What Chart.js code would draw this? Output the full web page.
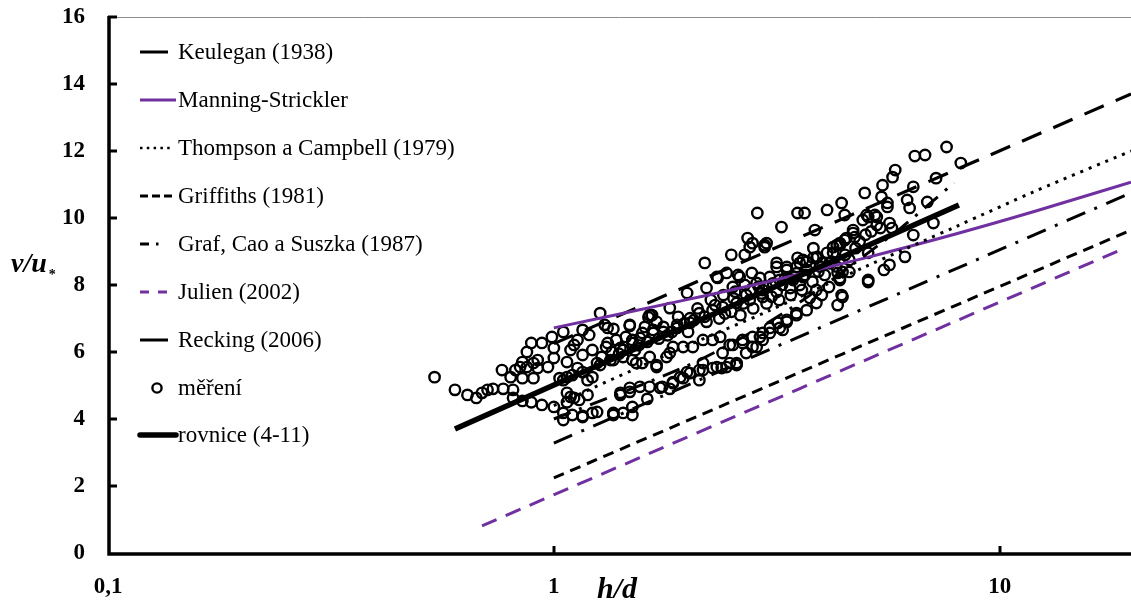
<!DOCTYPE html>
<html>
<head>
<meta charset="utf-8">
<script src="https://cdn.jsdelivr.net/npm/chart.js@4.4.1/dist/chart.umd.min.js"></script>
<style>
  html, body { margin: 0; padding: 0; background: #fff; }
  canvas { display: block; }
</style>
</head>
<body>
<canvas id="graf" width="1131" height="603"></canvas>
<script>
// měření: h/d and v/u*
var mereniHd = [
  0.54, 0.60, 0.64, 0.67, 0.69, 0.71, 0.73, 0.77, 0.81, 0.81, 0.85, 0.89, 0.94, 1.00,
  0.765, 0.80, 0.82, 0.84, 0.85, 0.87, 0.89, 0.94, 0.99, 1.05, 1.16, 0.87, 0.90, 0.92, 0.92, 0.90,
  0.85, 0.97, 1.00, 1.00, 1.07, 1.09, 1.11, 1.13, 1.07, 1.03, 1.13, 1.16, 1.20, 1.22, 1.19,
  1.05, 1.10, 1.16, 1.22, 1.25, 1.07, 1.11, 1.19, 1.05, 1.16, 1.36, 1.43, 1.50, 1.41, 1.48,
  1.56, 1.62, 1.73, 1.82, 1.85, 1.95, 1.99, 2.12, 2.16, 2.27, 2.38, 2.48, 2.57, 2.52, 2.65,
  2.79, 2.90, 3.05, 3.21, 3.33, 3.50, 2.27, 2.39,
  1.27, 1.30, 1.36, 1.48, 1.63, 1.66, 1.82, 1.99, 2.18, 2.50, 2.68, 2.79, 2.97, 2.20, 2.33,
  2.44, 2.61, 2.78, 2.52, 2.68, 2.85, 2.94,
  1.31, 1.38, 1.43, 1.50, 1.58, 1.67, 1.76, 1.89, 2.02, 2.12, 2.27, 2.39, 2.57, 2.75, 2.94,
  1.25, 1.34, 1.43, 1.53, 1.64, 1.70, 1.82, 1.95, 2.05, 2.16, 2.36, 2.48, 2.65, 2.79,
  1.41, 1.48, 1.64, 1.75, 1.85, 1.92, 2.02, 2.12, 2.16, 2.32, 2.44, 2.57, 2.70, 2.85, 2.94,
  1.36, 1.50,
  2.86, 3.24, 2.72, 2.75, 2.97, 2.32, 2.59, 2.90, 3.16, 3.33, 3.52, 3.52,
  3.65, 4.10, 4.42, 4.49, 3.85, 3.00, 3.82, 4.31, 4.49, 4.69, 4.93, 5.03, 5.25, 5.30, 5.66,
  5.73, 6.40, 7.10, 6.20, 5.60,
  3.16, 3.33, 3.50, 3.69, 3.88, 4.10, 4.23, 4.38, 4.53, 3.05, 3.21, 3.44, 3.62, 3.00, 3.16,
  3.39, 3.56,
  4.33, 4.60, 4.38, 5.07, 5.50, 5.66, 6.13, 5.07, 4.44, 4.33, 3.75, 3.88, 3.69, 3.50, 3.33,
  3.18, 3.05, 2.94, 3.26, 3.88, 4.14, 3.99,
  7.60, 6.45, 6.80, 8.18, 7.20, 5.83, 5.75, 5.46, 4.98, 5.43, 6.40, 5.60, 6.88, 5.07, 5.30,
  6.28, 4.69, 4.73, 4.38, 4.23, 3.82, 3.62, 3.90, 4.00, 4.44, 4.38, 4.42, 3.56, 5.07,
  1.32, 1.48, 1.64, 1.32, 1.41, 1.50, 1.56, 1.67, 1.76, 1.89, 2.02, 1.27, 1.36, 1.50, 1.58,
  1.70, 1.79, 1.85, 1.05, 1.10, 1.16, 1.22, 1.09, 1.14, 1.07,
  // dense middle band
  1.35, 1.45, 1.55, 1.60, 1.70, 1.80, 1.90, 2.00, 2.10, 2.20, 2.25, 2.35, 2.40, 2.50, 2.55,
  2.62, 2.70, 2.80, 2.88, 3.00, 3.10, 3.20, 3.30, 3.40, 3.50, 3.60, 3.70, 3.80, 3.95, 4.05,
  4.20, 4.30, 4.50, 4.60, 4.75, 4.85, 5.00, 5.15, 5.40, 1.28, 1.40, 1.52, 1.62, 1.72, 1.84,
  1.96, 2.06, 2.18, 2.30, 2.42, 2.53, 2.66, 2.76, 2.92, 3.08, 3.25, 3.45, 3.66, 3.92, 4.15
];
var mereniVu = [
  5.25, 4.87, 4.72, 4.63, 4.78, 4.87, 4.90, 4.90, 4.87, 4.63, 4.54, 4.50, 4.42, 4.36,
  5.46, 5.25, 5.46, 5.55, 5.70, 6.00, 6.27, 6.27, 6.45, 6.60, 6.66, 5.55, 5.67, 5.76, 5.52, 5.22,
  5.22, 5.55, 5.82, 6.12, 5.70, 6.06, 6.21, 6.36, 5.25, 5.22, 5.52, 5.91, 6.51, 6.06, 5.16,
  4.18, 4.12, 4.09, 4.18, 4.21, 4.50, 4.63, 4.72, 3.97, 4.06, 4.12, 4.18, 4.12, 4.72, 4.93,
  4.96, 4.60, 4.93, 4.90, 5.10, 5.22, 5.40, 5.16, 5.46, 5.52, 5.52, 5.67, 5.61, 6.21, 6.27,
  6.15, 6.45, 6.57, 6.72, 6.90, 7.10, 6.36, 5.97,
  7.16, 6.81, 6.69, 6.78, 7.04, 7.10, 7.31, 7.76, 8.66, 8.90, 8.90, 9.25, 9.19, 7.91, 8.21,
  8.36, 8.24, 8.36, 7.94, 8.00, 8.06, 7.85,
  6.15, 6.36, 6.06, 6.36, 6.57, 6.66, 6.75, 6.81, 7.01, 7.16, 7.25, 7.34, 7.46, 7.55, 7.64,
  5.67, 5.76, 5.85, 5.67, 5.85, 5.61, 5.97, 6.15, 6.15, 6.36, 6.45, 6.21, 6.36, 6.45,
  4.78, 4.81, 4.96, 4.96, 5.07, 5.25, 5.37, 5.46, 5.67, 5.55, 5.55, 5.67, 5.97, 6.15, 6.36,
  4.18, 4.36,
  10.15, 9.73, 9.40, 9.13, 9.13, 8.24, 8.30, 8.21, 8.54, 8.54, 8.81, 10.15,
  10.15, 10.24, 10.45, 10.09, 9.64, 9.25, 9.10, 9.19, 9.34, 9.55, 9.94, 10.09, 10.09, 9.79, 9.85,
  9.70, 9.49, 9.85, 10.54, 10.45,
  8.66, 8.45, 8.54, 8.69, 8.81, 8.96, 9.13, 9.25, 9.40, 8.24, 8.15, 8.15, 8.24, 7.94, 7.79,
  7.91, 8.00,
  8.36, 8.39, 8.15, 8.96, 8.45, 8.60, 8.84, 8.15, 7.64, 7.40, 7.61, 7.46, 7.25, 7.16, 6.96,
  6.87, 6.72, 6.57, 6.66, 7.85, 7.94, 7.70,
  12.12, 11.85, 11.88, 11.64, 11.19, 11.43, 11.22, 10.98, 10.75, 10.63, 10.93, 10.33, 10.48, 10.03, 10.03,
  10.30, 9.64, 9.43, 9.19, 8.96, 8.81, 8.75, 8.84, 8.66, 8.39, 8.21, 7.70, 8.66, 8.09,
  6.72, 6.81, 7.10, 6.27, 6.12, 6.27, 6.42, 6.57, 6.60, 6.72, 6.87, 5.61, 5.76, 5.76, 5.67,
  5.55, 5.85, 6.15, 5.16, 5.31, 5.40, 5.25, 4.66, 4.57, 4.78,
  // dense middle band
  6.00, 6.45, 6.20, 6.75, 6.90, 6.50, 7.05, 6.60, 7.30, 6.90, 7.55, 7.00, 7.70, 7.20, 7.80,
  7.10, 7.70, 7.30, 7.95, 7.45, 8.05, 7.55, 8.20, 7.70, 8.35, 7.85, 8.45, 8.10, 8.55, 8.30,
  8.70, 8.55, 8.90, 8.75, 9.10, 9.30, 9.50, 9.60, 9.70, 5.85, 5.95, 6.05, 6.30, 6.40, 6.60,
  6.85, 6.95, 7.05, 7.40, 7.15, 7.60, 7.45, 7.85, 7.75, 7.65, 8.00, 8.25, 8.30, 8.40, 8.65
];

var keuleganHd = [1, 19.7];
var keuleganVu = [6.25, 13.7];
var manningHd = [1, 2, 3, 5, 8, 12, 19.7];
var manningVu = [6.72, 7.57, 8.09, 8.81, 9.53, 10.2, 11.07];
var thompsonHd = [1, 2, 3, 5, 8, 12, 19.7];
var thompsonVu = [4.4, 6.2, 7.2, 8.55, 9.75, 10.8, 12.0];
var griffithsHd = [1, 19.7];
var griffithsVu = [2.24, 9.64];
var grafHd = [1, 19.7];
var grafVu = [3.28, 10.75];
var julienHd = [0.69, 18.6];
var julienVu = [0.81, 9.04];
var reckingHd = [1, 2, 3, 4, 5, 6, 7, 7.9];
var reckingVu = [4.0, 5.6, 6.85, 7.95, 8.9, 9.7, 10.45, 11.05];
var rovniceHd = [0.6, 8.1];
var rovniceVu = [3.7, 10.39];

// axis ticks
var xTicks = [0.1, 1, 10];
var yTicks = [0, 2, 4, 6, 8, 10, 12, 14, 16];

var FIALOVA = '#7030a0';
var FONT = 'Liberation Serif, Times New Roman, serif';

function body(xs, ys) {
  return xs.map(function(x, i) { return { x: x, y: ys[i] }; });
}

function cara(label, xs, ys, color, width, dash) {
  return {
    type: 'line',
    label: label,
    data: body(xs, ys),
    borderColor: color,
    borderWidth: width,
    borderDash: dash,
    borderCapStyle: 'butt',
    pointRadius: 0,
    fill: false,
    tension: 0.3,
    showLine: true
  };
}

// legend rows: text, sample length, dash, colour, width
var legenda = [
  { text: 'Keulegan (1938)', len: 28, dash: [], color: '#000', w: 3 },
  { text: 'Manning-Strickler', len: 36, dash: [], color: FIALOVA, w: 3 },
  { text: 'Thompson a Campbell (1979)', len: 33, dash: [2.5, 4.3], color: '#000', w: 2.5 },
  { text: 'Griffiths (1981)', len: 36, dash: [8, 4], color: '#000', w: 3 },
  { text: 'Graf, Cao a Suszka (1987)', len: 20, dash: [9, 7, 2.5, 7], color: '#000', w: 3 },
  { text: 'Julien (2002)', len: 36, dash: [9, 9], color: FIALOVA, w: 3 },
  { text: 'Recking (2006)', len: 28, dash: [], color: '#000', w: 3 },
  { text: 'měření', circle: true },
  { text: 'rovnice (4-11)', len: 36, dash: [], color: '#000', w: 5.5 }
];
var legendaY = [52, 100, 148, 196, 244, 292, 340, 388, 435];

var osy = {
  id: 'osy',
  afterDraw: function(chart) {
    var ctx = chart.ctx;
    var a = chart.chartArea;
    var sx = chart.scales.x, sy = chart.scales.y;
    ctx.save();
    // thin frame line on top
    ctx.strokeStyle = '#8c8c8c';
    ctx.lineWidth = 1;
    ctx.beginPath();
    ctx.moveTo(a.left, a.top + 0.5);
    ctx.lineTo(a.right, a.top + 0.5);
    ctx.stroke();
    // main axes
    ctx.strokeStyle = '#000';
    ctx.lineWidth = 3.5;
    ctx.beginPath();
    ctx.moveTo(a.left + 1, a.top - 1);
    ctx.lineTo(a.left + 1, a.bottom + 1);
    ctx.lineTo(a.right, a.bottom + 1);
    ctx.stroke();
    // inner tick marks
    ctx.lineWidth = 3;
    yTicks.forEach(function(v) {
      var p = Math.round(sy.getPixelForValue(v));
      if (v === 0) return;
      ctx.beginPath();
      ctx.moveTo(a.left, p);
      ctx.lineTo(a.left + 9, p);
      ctx.stroke();
    });
    xTicks.forEach(function(v) {
      if (v === 0.1) return;
      var p = Math.round(sx.getPixelForValue(v));
      ctx.beginPath();
      ctx.moveTo(p, a.bottom);
      ctx.lineTo(p, a.bottom - 7);
      ctx.stroke();
    });

    // axis titles
    ctx.fillStyle = '#000';
    ctx.textBaseline = 'alphabetic';
    ctx.textAlign = 'left';
    ctx.font = 'italic bold 30px ' + FONT;
    ctx.fillText('h/d', 597, 598);
    ctx.font = 'italic bold 28px ' + FONT;
    ctx.fillText('v/u', 11, 272);
    var w = ctx.measureText('v/u').width;
    ctx.font = 'bold 14px ' + FONT;
    ctx.fillText('*', 11 + w + 2, 279);

    // legend
    ctx.font = '23px ' + FONT;
    ctx.textBaseline = 'middle';
    legenda.forEach(function(it, i) {
      var y = legendaY[i];
      if (it.circle) {
        ctx.setLineDash([]);
        ctx.lineWidth = 2.4;
        ctx.strokeStyle = '#000';
        ctx.beginPath();
        ctx.arc(157, y, 4.6, 0, Math.PI * 2);
        ctx.stroke();
      } else {
        ctx.setLineDash(it.dash);
        ctx.lineWidth = it.w;
        ctx.strokeStyle = it.color;
        ctx.lineCap = it.w > 4 ? 'round' : 'butt';
        ctx.beginPath();
        ctx.moveTo(140, y);
        ctx.lineTo(140 + it.len, y);
        ctx.stroke();
      }
      ctx.setLineDash([]);
      ctx.fillStyle = '#000';
      ctx.fillText(it.text, 178, y + 1);
    });
    ctx.restore();
  }
};

var ctx = document.getElementById('graf');
var graf = new Chart(ctx, {
  type: 'scatter',
  data: {
    datasets: [
      cara('rovnice (4-11)', rovniceHd, rovniceVu, '#000', 5.5, []),
      cara('Recking (2006)', reckingHd, reckingVu, '#000', 3, [18, 9, 3, 9]),
      cara('Julien (2002)', julienHd, julienVu, FIALOVA, 3, [16, 10]),
      cara('Graf, Cao a Suszka (1987)', grafHd, grafVu, '#000', 3, [20, 10, 3, 10]),
      cara('Griffiths (1981)', griffithsHd, griffithsVu, '#000', 3, [11, 7]),
      cara('Thompson a Campbell (1979)', thompsonHd, thompsonVu, '#000', 3, [3, 6]),
      cara('Manning-Strickler', manningHd, manningVu, FIALOVA, 3, []),
      cara('Keulegan (1938)', keuleganHd, keuleganVu, '#000', 3.2, [21, 13]),
      {
        type: 'scatter',
        label: 'měření',
        data: body(mereniHd, mereniVu),
        pointStyle: 'circle',
        pointRadius: 5.2,
        pointBorderWidth: 2.4,
        pointBackgroundColor: 'rgba(255,255,255,0)',
        pointBorderColor: '#000',
        showLine: false
      }
    ]
  },
  options: {
    responsive: false,
    animation: false,
    events: [],
    layout: { autoPadding: false, padding: { top: 17, right: 0, left: 0, bottom: 0 } },
    plugins: {
      legend: { display: false },
      tooltip: { enabled: false }
    },
    scales: {
      x: {
        type: 'logarithmic',
        min: 0.1,
        max: 19.7,
        afterBuildTicks: function(s) {
          s.ticks = xTicks.map(function(v) { return { value: v }; });
        },
        afterFit: function(s) {
          s.height = 50;
          s.paddingLeft = 0;
          s.paddingRight = 0;
        },
        grid: { display: false, drawTicks: false },
        border: { display: false },
        ticks: {
          autoSkip: false,
          maxRotation: 0,
          padding: 20,
          color: '#000',
          font: { family: FONT, size: 23, weight: 'bold' },
          callback: function(v) { return String(v).replace('.', ','); }
        }
      },
      y: {
        min: 0,
        max: 16,
        afterBuildTicks: function(s) {
          s.ticks = yTicks.map(function(v) { return { value: v }; });
        },
        afterFit: function(s) {
          s.width = 108;
          s.paddingTop = 0;
          s.paddingBottom = 0;
        },
        grid: { display: false, drawTicks: false },
        border: { display: false },
        ticks: {
          padding: 23,
          color: '#000',
          font: { family: FONT, size: 23, weight: 'bold' }
        }
      }
    }
  },
  plugins: [osy]
});
</script>
</body>
</html>
